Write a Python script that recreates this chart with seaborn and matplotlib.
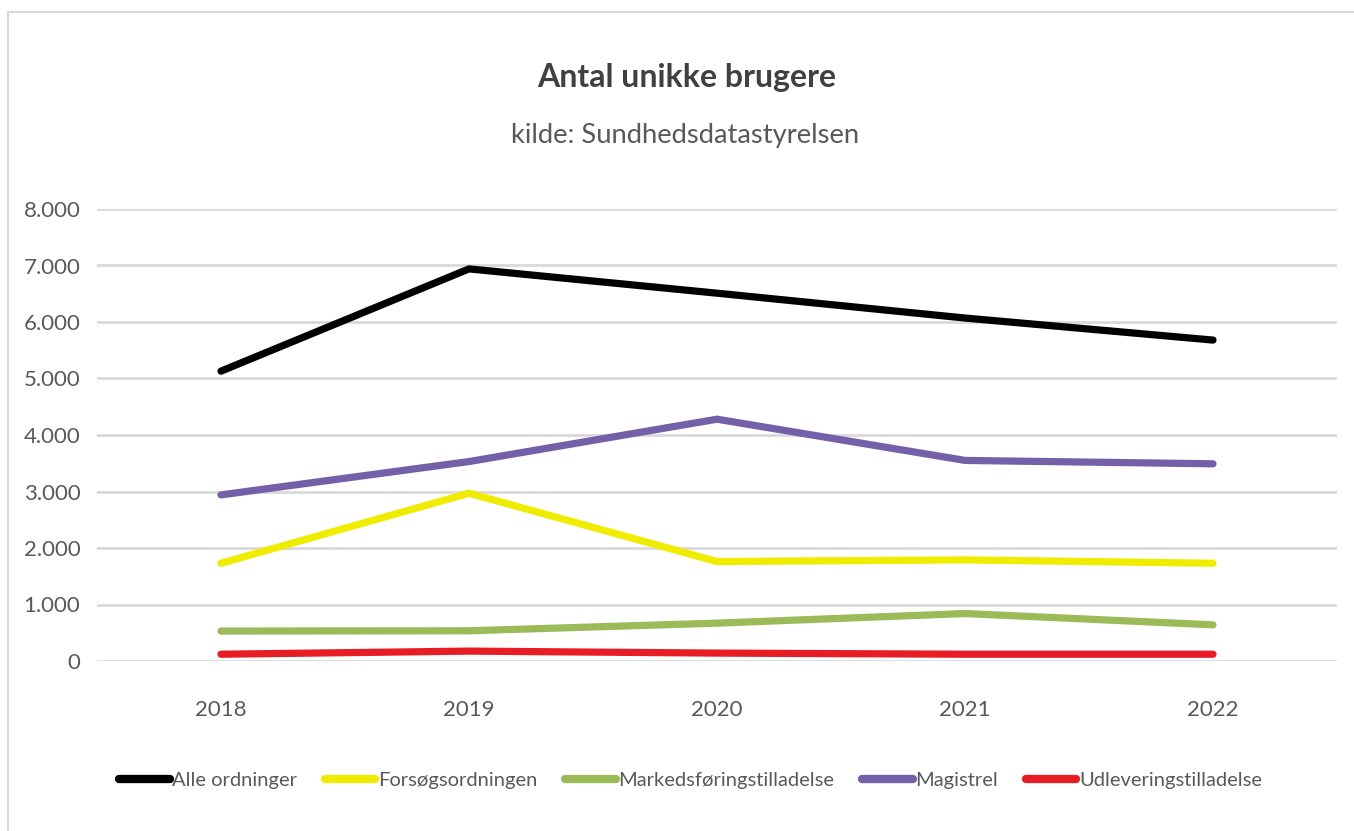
import matplotlib
matplotlib.use("Agg")
import matplotlib.pyplot as plt
import seaborn as sns
import pandas as pd
from matplotlib.patches import Rectangle

years = [2018, 2019, 2020, 2021, 2022]
series_names = ["Alle ordninger", "Forsøgsordningen", "Markedsføringstilladelse",
                "Magistrel", "Udleveringstilladelse"]
alle = [5130, 6940, 6510, 6070, 5680]
forsog = [1730, 2970, 1760, 1790, 1730]
markeds = [530, 535, 670, 840, 640]
magistrel = [2940, 3530, 4280, 3550, 3490]
udlev = [120, 175, 140, 120, 120]
colors = ["#000000", "#f0ec00", "#9bbb59", "#7460a8", "#e81c24"]
yticks = [0, 1000, 2000, 3000, 4000, 5000, 6000, 7000, 8000]
ytick_labels = ["0", "1.000", "2.000", "3.000", "4.000", "5.000", "6.000", "7.000", "8.000"]

values = [alle, forsog, markeds, magistrel, udlev]
rows = []
for name, vals in zip(series_names, values):
    for y, v in zip(years, vals):
        rows.append({"År": y, "Antal": v, "Ordning": name})
df = pd.DataFrame(rows)

sns.set_theme(style="white")
plt.rcParams['font.family'] = ['Lato', 'DejaVu Sans']

fig = plt.figure(figsize=(13.54, 8.31), dpi=100)
fig.patch.set_facecolor("white")
fig.patches.append(Rectangle((8 / 1354, -0.01), 1.02, 1 - 12 / 831 + 0.01,
                             transform=fig.transFigure, fill=False,
                             edgecolor="#d9d9d9", linewidth=1.5, zorder=0))

ax = fig.add_axes([97 / 1354, 1 - 661 / 831, (1337 - 97) / 1354, 452 / 831])
sns.lineplot(data=df, x="År", y="Antal", hue="Ordning", hue_order=series_names,
             palette=colors, linewidth=5.2, ax=ax, legend=True,
             solid_capstyle="round")

ax.set_xlim(2017.5, 2022.5)
ax.set_ylim(0, 8000)
ax.set_xticks(years)
ax.set_xticklabels([str(y) for y in years])
ax.set_yticks(yticks)
ax.set_yticklabels(ytick_labels)
ax.set_xlabel("")
ax.set_ylabel("")
ax.grid(axis="y", color="#d9d9d9", linewidth=2)
ax.set_axisbelow(True)
for s in ax.spines.values():
    s.set_visible(False)
ax.tick_params(axis="y", length=0, pad=12, labelsize=16, labelcolor="#595959")
ax.tick_params(axis="x", length=0, pad=28, labelsize=16, labelcolor="#595959")

handles, labels = ax.get_legend_handles_labels()
ax.get_legend().remove()
leg = fig.legend(handles, labels, loc="center", bbox_to_anchor=(0.51, 1 - 780 / 831),
                 ncol=5, frameon=False, fontsize=14.5, handlelength=2.5,
                 handletextpad=0.12, columnspacing=1.4, labelcolor="#595959")
for ln in leg.get_lines():
    ln.set_linewidth(6)
    ln.set_solid_capstyle("round")

fig.text(0.507, 1 - 78 / 831, "Antal unikke brugere", ha="center", va="center",
         fontsize=23, fontweight="bold", color="#404040")
fig.text(0.506, 1 - 135 / 831, "kilde: Sundhedsdatastyrelsen", ha="center", va="center",
         fontsize=19.7, color="#595959")

fig.savefig("out.png", dpi=100, facecolor="white")
